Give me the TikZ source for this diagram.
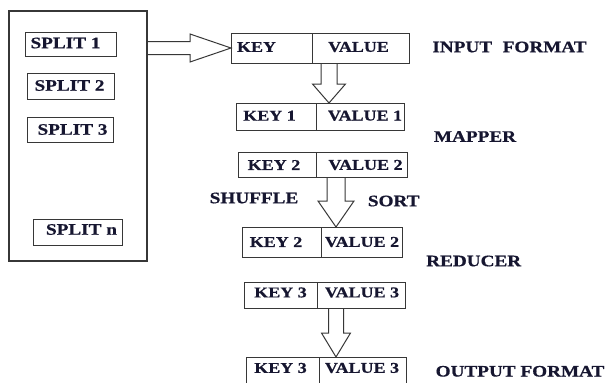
\documentclass[tikz,border=0pt]{standalone}
\usepackage{fontspec}
\setmainfont{Liberation Serif}[BoldFeatures={FakeBold=0.6}]
\usetikzlibrary{calc,backgrounds}
\definecolor{ink}{RGB}{22,22,48}
\definecolor{edge}{RGB}{55,55,55}
% horizontally widened lettering
\newcommand\wtxt[1]{\scalebox{1.2}[1]{#1}}
% hollow block arrow pointing down: tip, shaft half width, head half width, head length, total length
\newcommand\blkdown[5]{%
  \draw[blk] ($(#1)+(-#2,-#5)$) -- ($(#1)+(-#2,-#4)$) -- ($(#1)+(-#3,-#4)$) -- (#1)
    -- ($(#1)+(#3,-#4)$) -- ($(#1)+(#2,-#4)$) -- ($(#1)+(#2,-#5)$);}
\tikzset{
  every node/.style={inner sep=0pt, outer sep=0pt},
  cell/.style={draw=edge, line width=1pt},
  outer/.style={draw=edge, line width=1.3pt},
  lbl/.style={text=ink, font=\fontsize{16}{18}\selectfont\bfseries},
  kv/.style={text=ink, font=\fontsize{15}{17}\selectfont\bfseries},
  blk/.style={draw=edge, line width=1pt, fill=white, line join=miter},
}
\begin{document}
\begin{tikzpicture}[x=1pt, y=-1pt]
\useasboundingbox (0,0) rectangle (606,383);

% input splits
\node[outer, minimum width=138pt, minimum height=250pt] (splits) at (78,136) {};
\node[cell, minimum width=91pt, minimum height=24pt] (s1) at (70.5,44) {};
\node[cell, minimum width=87pt, minimum height=26pt] (s2) at (70.5,86) {};
\node[cell, minimum width=86pt, minimum height=25pt] (s3) at (70,129.5) {};
\node[cell, minimum width=89pt, minimum height=26pt] (sn) at (77.5,232) {};
\node[lbl] (s1t) at (65.5,43) {\wtxt{SPLIT 1}};
\node[lbl] (s2t) at (69.5,85.5) {\wtxt{SPLIT 2}};
\node[lbl] (s3t) at (72.5,129.5) {\wtxt{SPLIT 3}};
\node[lbl] (snt) at (81.5,229.5) {\wtxt{SPLIT n}};

% input format record
\node[cell, minimum width=81pt, minimum height=30pt] (kin) at (271.5,48) {};
\node[cell, minimum width=97pt, minimum height=30pt] (vin) at (360.5,48) {};
\node[kv] (kint) at (256.5,47) {\wtxt{KEY}};
\node[kv] (vint) at (358.5,47) {\wtxt{VALUE}};

% mapper records
\node[cell, minimum width=80pt, minimum height=27pt] (k1) at (276,116.5) {};
\node[cell, minimum width=88pt, minimum height=27pt] (v1) at (360,116.5) {};
\node[kv] (k1t) at (269.5,115.7) {\wtxt{KEY 1}};
\node[kv] (v1t) at (365,115.7) {\wtxt{VALUE 1}};
\node[cell, minimum width=78pt, minimum height=25pt] (k2) at (277,164.5) {};
\node[cell, minimum width=91pt, minimum height=25pt] (v2) at (361.5,164.5) {};
\node[kv] (k2t) at (274,165) {\wtxt{KEY 2}};
\node[kv] (v2t) at (365.5,165) {\wtxt{VALUE 2}};

% reducer records
\node[cell, minimum width=79pt, minimum height=30pt] (k3) at (281.5,242) {};
\node[cell, minimum width=81pt, minimum height=30pt] (v3) at (361.5,242) {};
\node[kv] (k3t) at (276,242) {\wtxt{KEY 2}};
\node[kv] (v3t) at (362,242) {\wtxt{VALUE 2}};
\node[cell, minimum width=73pt, minimum height=26pt] (k4) at (280.5,295) {};
\node[cell, minimum width=88pt, minimum height=26pt] (v4) at (361,295) {};
\node[kv] (k4t) at (280.5,292.5) {\wtxt{KEY 3}};
\node[kv] (v4t) at (362,292.5) {\wtxt{VALUE 3}};

% output format record
\node[cell, minimum width=73pt, minimum height=33pt] (k5) at (282.5,373.5) {};
\node[cell, minimum width=87pt, minimum height=33pt] (v5) at (362.5,373.5) {};
\node[kv] (k5t) at (280.5,368) {\wtxt{KEY 3}};
\node[kv] (v5t) at (362,368) {\wtxt{VALUE 3}};

% stage labels
\node[lbl] (linput) at (509.5,47) {\wtxt{INPUT\hspace{0.55em}FORMAT}};
\node[lbl] (lmap) at (475,136.5) {\wtxt{MAPPER}};
\node[lbl] (lshuf) at (254,198) {\wtxt{SHUFFLE}};
\node[lbl] (lsort) at (393.7,201) {\wtxt{SORT}};
\node[lbl] (lred) at (473.7,261) {\wtxt{REDUCER}};
\node[lbl] (lout) at (520,371.3) {\wtxt{OUTPUT FORMAT}};

% arrow tips
\coordinate (t1) at ($(v1.north west)+(13,0)$);
\coordinate (t2) at ($(v3.north west)+(15,0)$);
\coordinate (t3) at ($(v5.north west)+(17,0)$);

\begin{pgfonlayer}{background}
  \fill[white] (0,0) rectangle (606,383);
  % splits feed the input format
  \draw[blk] ($(kin.west)+(-84,-6.5)$) -- ($(kin.west)+(-41,-6.5)$) -- ($(kin.west)+(-41,-14)$)
    -- (kin.west) -- ($(kin.west)+(-41,14)$) -- ($(kin.west)+(-41,6.5)$) -- ($(kin.west)+(-84,6.5)$);
  \blkdown{t1}{8}{16.5}{19}{40}
  \blkdown{t2}{9}{18}{26}{50}
  \blkdown{t3}{7.5}{14.5}{24}{49}
\end{pgfonlayer}
\end{tikzpicture}
\end{document}
